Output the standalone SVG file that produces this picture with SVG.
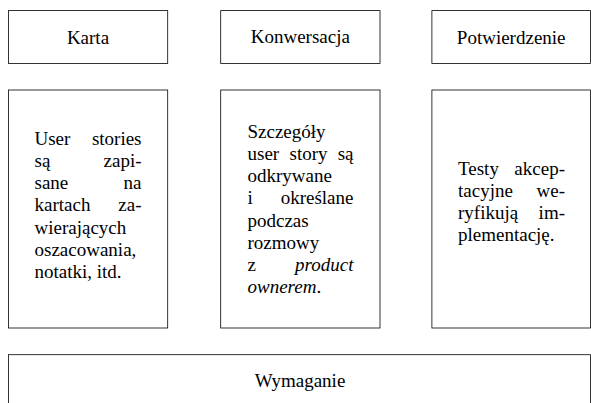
<svg xmlns="http://www.w3.org/2000/svg" width="591" height="403" viewBox="0 0 591 403">
  <style>
    .box { fill: #ffffff; stroke: #000000; stroke-width: 0.8; }
    text { font-family: 'Liberation Serif', 'Times New Roman', serif; font-size: 19px; fill: #000000; }
    .c { text-anchor: middle; }
    .e { text-anchor: end; }
    .i { font-style: italic; }
  </style>
  <rect width="591" height="403" fill="#ffffff"/>

  <g id="karta">
    <rect class="box" x="8.4" y="10.6" width="159.3" height="52.8"/>
    <text class="c" x="88" y="44">Karta</text>
  </g>
  <g id="konwersacja">
    <rect class="box" x="220.7" y="10.6" width="159.3" height="52.8"/>
    <text class="c" x="300.3" y="42.8">Konwersacja</text>
  </g>
  <g id="potwierdzenie">
    <rect class="box" x="431.9" y="10.6" width="158.5" height="52.8"/>
    <text class="c" x="511.2" y="44">Potwierdzenie</text>
  </g>

  <g id="opis-karta">
    <rect class="box" x="8.4" y="90" width="159.3" height="238"/>
    <text x="34.5" y="145">User</text><text class="e" x="141.5" y="145">stories</text>
    <text x="34.5" y="167.15">są</text><text class="e" x="141.5" y="167.15">zapi-</text>
    <text x="34.5" y="189.3">sane</text><text class="e" x="141.5" y="189.3">na</text>
    <text x="34.5" y="211.45">kartach</text><text class="e" x="141.5" y="211.45">za-</text>
    <text x="34.5" y="233.6">wierających</text>
    <text x="34.5" y="255.75">oszacowania,</text>
    <text x="34.5" y="277.9">notatki, itd.</text>
  </g>

  <g id="opis-konwersacja">
    <rect class="box" x="220.7" y="90" width="159.3" height="238"/>
    <text x="247.5" y="138">Szczegóły</text>
    <text x="247.5" y="160.15">user</text><text x="289.5" y="160.15">story</text><text class="e" x="353.5" y="160.15">są</text>
    <text x="247.5" y="182.3">odkrywane</text>
    <text x="247.5" y="204.45">i</text><text class="e" x="353.5" y="204.45">określane</text>
    <text x="247.5" y="226.6">podczas</text>
    <text x="247.5" y="248.75">rozmowy</text>
    <text x="247.5" y="270.9">z</text><text class="e i" x="353.5" y="270.9">product</text>
    <text x="247.5" y="293.05"><tspan class="i">ownerem</tspan>.</text>
  </g>

  <g id="opis-potwierdzenie">
    <rect class="box" x="431.9" y="90" width="158.5" height="238"/>
    <text x="458" y="175">Testy</text><text class="e" x="565" y="175">akcep-</text>
    <text x="458" y="197.15">tacyjne</text><text class="e" x="565" y="197.15">we-</text>
    <text x="458" y="219.3">ryfikują</text><text class="e" x="565" y="219.3">im-</text>
    <text x="458" y="241.45">plementację.</text>
  </g>

  <g id="wymaganie">
    <rect class="box" x="8.4" y="354.7" width="582" height="60"/>
    <text class="c" x="300" y="386.7">Wymaganie</text>
  </g>

  <g id="connectors"></g>
</svg>
